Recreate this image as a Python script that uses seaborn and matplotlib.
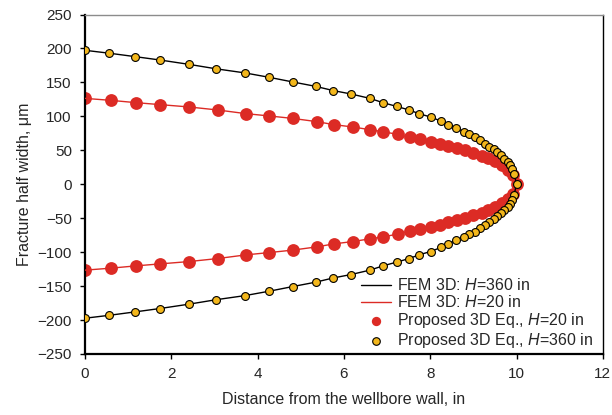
import numpy as np
import pandas as pd
import matplotlib
matplotlib.use("Agg")
import matplotlib.pyplot as plt
import seaborn as sns

# Distance from the wellbore wall (in) and upper-branch half widths (um)
x_h360 = [0.0, 0.563, 1.158, 1.737, 2.400, 3.041, 3.706, 4.269, 4.811, 5.344,
          5.751, 6.161, 6.601, 6.909, 7.220, 7.511, 7.743, 8.007, 8.246, 8.415,
          8.593, 8.779, 8.901, 9.027, 9.156, 9.258, 9.358, 9.467, 9.550, 9.636,
          9.712, 9.791, 9.851, 9.897, 9.944, 10.0]
w_h360 = [197.3, 193.0, 188.0, 183.0, 176.7, 170.0, 164.0, 157.5, 150.7, 144.2,
          138.0, 133.0, 126.5, 120.1, 114.7, 109.4, 103.9, 99.1, 93.1, 87.7,
          82.7, 77.7, 73.3, 69.9, 65.0, 60.0, 55.6, 51.8, 47.3, 42.9,
          37.9, 33.5, 28.6, 23.2, 15.3, 0.0]

x_h20 = [0.0, 0.595, 1.181, 1.737, 2.402, 3.074, 3.729, 4.269, 4.811, 5.374,
         5.768, 6.201, 6.601, 6.909, 7.243, 7.528, 7.760, 8.007, 8.223, 8.415,
         8.609, 8.801, 8.995, 9.189, 9.342, 9.497, 9.652, 9.805, 9.921, 10.0]
w_h20 = [126.5, 123.6, 120.2, 117.3, 113.9, 109.4, 104.0, 100.6, 97.0, 92.2,
         87.8, 84.4, 80.4, 77.4, 73.5, 69.0, 66.1, 62.7, 59.7, 56.3,
         52.8, 49.8, 46.0, 42.0, 38.1, 33.6, 27.7, 21.4, 14.0, 0.0]

labels = ["FEM 3D: $\\mathit{H}$=360 in",
          "FEM 3D: $\\mathit{H}$=20 in",
          "Proposed 3D Eq., $\\mathit{H}$=20 in",
          "Proposed 3D Eq., $\\mathit{H}$=360 in"]


def closed_profile(x, w):
    """Upper branch out to the tip, then the mirrored lower branch back."""
    xs = list(x) + list(x[::-1][1:])
    ys = list(w) + [-v for v in w[::-1][1:]]
    return pd.DataFrame({"x": xs, "w": ys})


prof360 = closed_profile(x_h360, w_h360)
prof20 = closed_profile(x_h20, w_h20)

sns.set_style("white")
plt.rcParams["font.family"] = ["Liberation Sans", "DejaVu Sans"]
plt.rcParams["mathtext.fontset"] = "custom"
plt.rcParams["mathtext.it"] = "Liberation Sans:italic"
plt.rcParams["mathtext.rm"] = "Liberation Sans"

fig = plt.figure(figsize=(6.12, 4.15), dpi=100)
ax = fig.add_axes([0.139, 0.147, 0.846, 0.818])

red = "#DC2B25"
gold = "#F3B71C"

sns.scatterplot(data=prof20, x="x", y="w", ax=ax, color=red, s=85,
                linewidth=0, zorder=2, label=labels[2])
sns.lineplot(data=prof20, x="x", y="w", ax=ax, sort=False, estimator=None,
             color=red, linewidth=1.0, zorder=3, label=labels[1])
sns.lineplot(data=prof360, x="x", y="w", ax=ax, sort=False, estimator=None,
             color="black", linewidth=1.0, zorder=4, label=labels[0])
sns.scatterplot(data=prof360, x="x", y="w", ax=ax, color=gold, s=32,
                edgecolor="black", linewidth=0.8, zorder=5, label=labels[3])

ax.set_xlim(0, 12)
ax.set_ylim(-250, 250)
ax.set_xticks(np.arange(0, 13, 2))
ax.set_yticks(np.arange(-250, 251, 50))
ax.set_yticklabels([str(v).replace("-", "\u2212") for v in range(-250, 251, 50)])
ax.set_xlabel("Distance from the wellbore wall, in", fontsize=11.5, labelpad=8)
ax.set_ylabel("Fracture half width, \u03bcm", fontsize=11.5, labelpad=4)
ax.tick_params(axis="both", which="major", labelsize=11, direction="out",
               length=3.5, width=1, color="black", left=True, bottom=True)
ax.tick_params(axis="y", pad=6)
ax.tick_params(axis="x", pad=6)

for side in ["left", "bottom"]:
    ax.spines[side].set_color("black")
    ax.spines[side].set_linewidth(1.6)
ax.spines["right"].set_color("black")
ax.spines["right"].set_linewidth(1.0)
ax.spines["top"].set_color("#8c8c8c")
ax.spines["top"].set_linewidth(1.0)

handles, labs = ax.get_legend_handles_labels()
order = [labs.index(l) for l in labels]
leg = ax.legend([handles[i] for i in order], [labs[i] for i in order],
                loc="lower right", bbox_to_anchor=(1.0, -0.016), frameon=False,
                fontsize=11.5, handlelength=1.9, labelspacing=0.05,
                handletextpad=0.35, borderaxespad=0.2)
leg.legend_handles[2].set_sizes([45])
leg.legend_handles[3].set_sizes([30])

fig.savefig("out.png", dpi=100)
